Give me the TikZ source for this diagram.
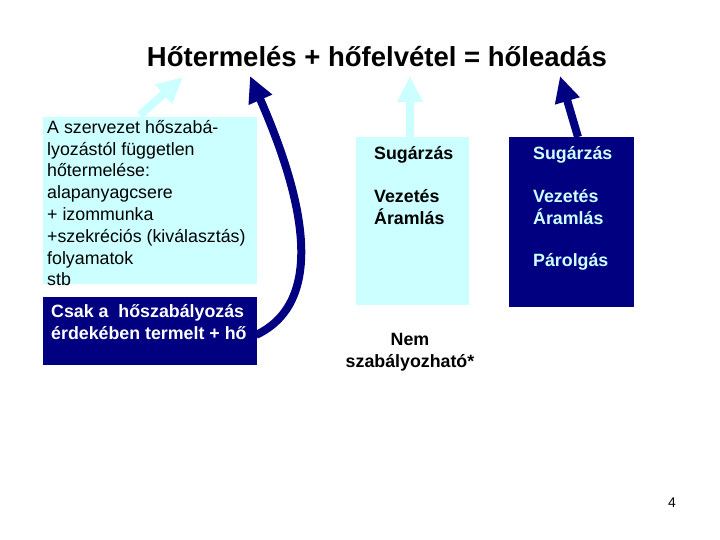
\documentclass[tikz,border=0pt]{standalone}
\usepackage{fontspec}
\setmainfont{Liberation Sans}
\usetikzlibrary{arrows.meta}
\definecolor{lcyan}{HTML}{CCFFFF}
\definecolor{navy}{HTML}{000080}
\begin{document}
\begin{tikzpicture}[x=1pt,y=-1pt,
  txt/.style={font=\fontsize{17.8}{21.8}\selectfont,align=left,inner sep=0pt},
  btxt/.style={txt,font=\bfseries\fontsize{17.8}{21.8}\selectfont},
  bigarrow/.style={line width=8pt,-{Triangle[length=26pt,width=24pt]}}]
\useasboundingbox (0,0) rectangle (720,540);
\node (title) at (377,57) {\bfseries\fontsize{27.5}{32}\selectfont Hőtermelés + hőfelvétel = hőleadás};
\fill[lcyan] (43,117) rectangle (257,284);
\node[txt,anchor=north west] (lt) at (47,120) {A szervezet hőszabá-\\lyozástól független\\hőtermelése:\\alapanyagcsere\\+ izommunka\\+szekréciós (kiválasztás)\\folyamatok\\stb};
\fill[navy] (43,297) rectangle (257,365);
\node[btxt,anchor=north west,text=white] (dk) at (51,304) {Csak a\ \ hőszabályozás\\érdekében termelt + hő};
\fill[lcyan] (356,137) rectangle (469,305);
\fill[navy] (509,137) rectangle (634,307);
\node[btxt,anchor=north west] at (374,146) {Sugárzás};
\node[btxt,anchor=north west] at (374,189) {Vezetés\\Áramlás};
\node[btxt,anchor=north west,text=lcyan] at (533,146) {Sugárzás};
\node[btxt,anchor=north west,text=lcyan] at (533,189) {Vezetés\\Áramlás};
\node[btxt,anchor=north west,text=lcyan] at (533,253) {Párolgás};
\node[btxt,align=center] (nem) at (410,352) {Nem\\szabályozható*};
\node[font=\fontsize{14}{16}\selectfont] at (672,503) {4};
\coordinate (a1s) at (140,115); \coordinate (a1e) at (183,77);
\coordinate (a2s) at (256,335); \coordinate (a2e) at (250,76);
\coordinate (a3s) at (410,137); \coordinate (a3e) at (410,76);
\coordinate (a4s) at (578,137); \coordinate (a4e) at (560,76);
\draw[bigarrow,lcyan] (a1s) -- (a1e);
\draw[bigarrow,navy] (a2s) .. controls (330,300) and (300,190) .. (a2e);
\draw[bigarrow,lcyan] (a3s) -- (a3e);
\draw[bigarrow,navy] (a4s) -- (a4e);
\end{tikzpicture}
\end{document}
